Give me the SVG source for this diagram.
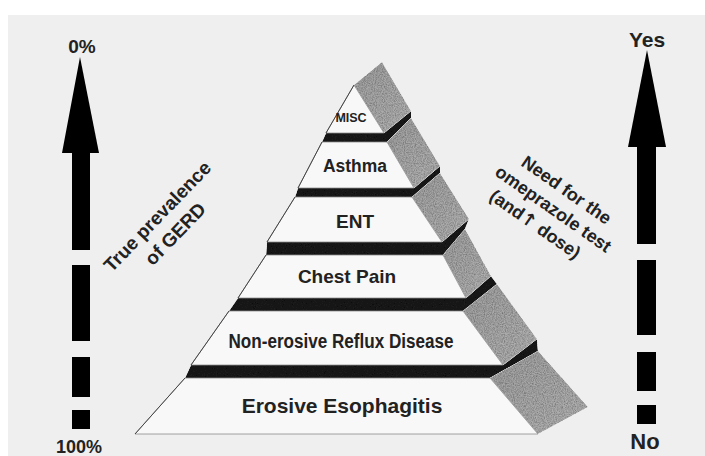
<svg xmlns="http://www.w3.org/2000/svg" width="705" height="456" viewBox="0 0 705 456">
<defs>
<filter id="grain" x="0" y="0" width="100%" height="100%">
<feTurbulence type="fractalNoise" baseFrequency="0.9" numOctaves="2" seed="3" result="n"/>
<feColorMatrix in="n" type="matrix" values="1 0 0 0 0.3  1 0 0 0 0.3  1 0 0 0 0.3  0 0 0 0 1" result="g"/>
<feBlend in="SourceGraphic" in2="g" mode="multiply" result="b"/>
<feComposite in="b" in2="SourceGraphic" operator="in"/>
</filter>
<linearGradient id="side" x1="0" y1="0" x2="1" y2="1">
<stop offset="0" stop-color="#a0a0a0"/>
<stop offset="1" stop-color="#b4b4b4"/>
</linearGradient>
</defs>
<style>
.front{fill:#f8f8f8;stroke:#8a8a8a;stroke-width:0.8}
.edge{stroke:#444;stroke-width:1;fill:none}
.side{fill:url(#side);filter:url(#grain)}
.band{fill:#1a1a1a;filter:url(#grain)}
.lbl{font-family:"Liberation Sans",Arial,sans-serif;font-weight:bold;fill:#222;text-anchor:middle}
.ax{fill:#000}
</style>
<rect x="0" y="0" width="705" height="456" fill="#ffffff"/>
<rect x="8" y="15" width="697" height="441" fill="#efefef"/>

<g id="connectors">
<g id="left-arrow">
<polygon class="ax" points="80,57 99,153 62,153"/>
<rect class="ax" x="72" y="152" width="18" height="98"/>
<rect class="ax" x="72" y="265" width="18" height="76"/>
<rect class="ax" x="72" y="357" width="18" height="40"/>
<rect class="ax" x="72" y="410" width="18" height="19"/>
</g>
<g id="right-arrow">
<polygon class="ax" points="647,50 666,147 628,147"/>
<rect class="ax" x="637" y="146" width="19" height="98"/>
<rect class="ax" x="637" y="260" width="19" height="75"/>
<rect class="ax" x="637" y="352" width="19" height="39"/>
<rect class="ax" x="637" y="405" width="19" height="19"/>
</g>
</g>

<g id="pyramid">
<g id="bands">
<polygon class="band" points="326,133 384,133 411,111 411,118 387,142 322,142"/>
<polygon class="band" points="298,188 414,188 440,166 440,173 412,197 295,197"/>
<polygon class="band" points="267,242 442,242 469,219 465,229 443,255 266,255"/>
<polygon class="band" points="238,298 466,298 491,276 497,284 463,311 229,311"/>
<polygon class="band" points="191,365 503,365 537,339 538,351 490,378 185,378"/>
</g>
<g id="layer-misc">
<polygon class="side" points="354,85 382,62 411,111 384,133"/>
<polygon class="front" points="354,85 384,133 326,133"/>
<line class="edge" x1="354" y1="85" x2="326" y2="133"/>
<text class="lbl" x="351" y="122" font-size="12.5">MISC</text>
</g>
<g id="layer-asthma">
<polygon class="side" points="387,142 411,118 440,166 414,188"/>
<polygon class="front" points="322,142 387,142 414,188 298,188"/>
<line class="edge" x1="322" y1="142" x2="298" y2="188"/>
<text class="lbl" x="355" y="172" font-size="18" textLength="64" lengthAdjust="spacingAndGlyphs">Asthma</text>
</g>
<g id="layer-ent">
<polygon class="side" points="412,197 440,173 469,219 442,242"/>
<polygon class="front" points="295,197 412,197 442,242 267,242"/>
<line class="edge" x1="295" y1="197" x2="267" y2="242"/>
<text class="lbl" x="355" y="228" font-size="19">ENT</text>
</g>
<g id="layer-chest-pain">
<polygon class="side" points="443,255 465,229 491,276 466,298"/>
<polygon class="front" points="266,255 443,255 466,298 238,298"/>
<line class="edge" x1="266" y1="255" x2="238" y2="298"/>
<text class="lbl" x="347" y="283" font-size="19">Chest Pain</text>
</g>
<g id="layer-nerd">
<polygon class="side" points="463,311 497,284 537,339 503,365"/>
<polygon class="front" points="229,311 463,311 503,365 191,365"/>
<line class="edge" x1="229" y1="311" x2="191" y2="365"/>
<text class="lbl" x="341" y="348" font-size="20" textLength="225" lengthAdjust="spacingAndGlyphs">Non-erosive Reflux Disease</text>
</g>
<g id="layer-erosive">
<polygon class="side" points="490,378 538,351 588,407 538,434"/>
<polygon class="front" points="185,378 490,378 538,434 135,434"/>
<line class="edge" x1="185" y1="378" x2="135" y2="434"/>
<text class="lbl" x="342" y="413" font-size="21">Erosive Esophagitis</text>
</g>
</g>

<g id="label-0pct"><text class="lbl" x="82" y="53" font-size="19">0%</text></g>
<g id="label-100pct"><text class="lbl" x="79" y="453" font-size="18">100%</text></g>
<g id="label-yes"><text class="lbl" x="647" y="47" font-size="21">Yes</text></g>
<g id="label-no"><text class="lbl" x="645" y="449" font-size="22">No</text></g>

<g id="label-prevalence" transform="translate(162,221) rotate(-46)">
<text class="lbl" x="0" y="0" font-size="19">True prevalence</text>
<text class="lbl" x="0" y="25" font-size="19">of GERD</text>
</g>
<g id="label-omeprazole" transform="translate(563,195) rotate(35)">
<text class="lbl" x="0" y="0" font-size="18">Need for the</text>
<text class="lbl" x="0" y="23" font-size="18">omeprazole test</text>
<text class="lbl" x="-6" y="46" font-size="18">(and<tspan font-family="DejaVu Sans" font-size="18">↑</tspan> dose)</text>
</g>
</svg>
